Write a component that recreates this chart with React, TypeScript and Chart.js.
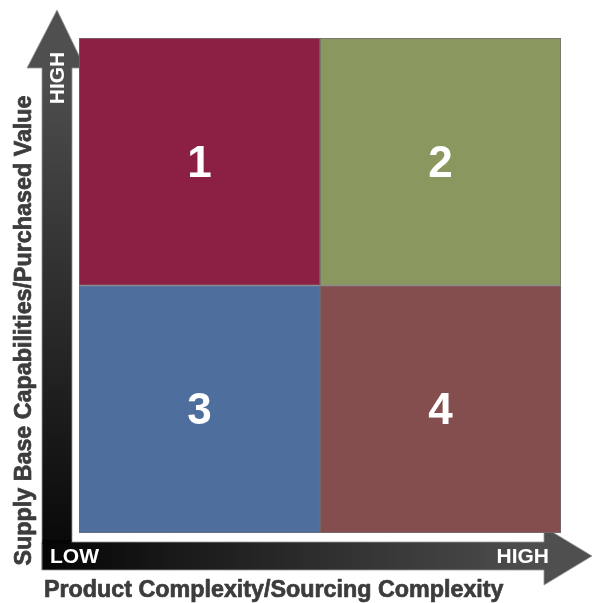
import React, { useEffect, useRef } from 'react';
import { Chart, registerables } from 'chart.js';

Chart.register(...registerables);

// Columns: product / sourcing complexity (low → high)
const complexityLevels = ['LOW', 'HIGH'];
// Rows stacked bottom → top: supply base capabilities / purchased value
const lowValueRow = [1, 1];
const highValueRow = [1, 1];
const lowValueLabels = ['3', '4'];
const highValueLabels = ['1', '2'];
const lowValueColors = ['#4e6e9e', '#844e4f'];
const highValueColors = ['#8b2044', '#8a975e'];

const xAxisTitle = 'Product Complexity/Sourcing Complexity';
const yAxisTitle = 'Supply Base Capabilities/Purchased Value';
const lowTick = 'LOW';
const highTick = 'HIGH';

const FONT = '"Liberation Sans", Arial, sans-serif';

// Quadrant numbers drawn at the centre of each bar segment
const quadrantLabels = {
  id: 'quadrantLabels',
  afterDatasetsDraw(chart: any) {
    const { ctx } = chart;
    ctx.save();
    ctx.fillStyle = '#ffffff';
    ctx.font = `bold 44px ${FONT}`;
    ctx.textAlign = 'center';
    ctx.textBaseline = 'middle';
    chart.data.datasets.forEach((ds: any, di: number) => {
      const meta = chart.getDatasetMeta(di);
      meta.data.forEach((bar: any, i: number) => {
        const cx = bar.x;
        const cy = (bar.y + bar.base) / 2;
        ctx.fillText(ds.quadrants[i], cx, cy + 3);
      });
    });
    ctx.restore();
  },
};

// Axis arrows with their end labels and titles
const axisArrows = {
  id: 'axisArrows',
  beforeDatasetsDraw(chart: any) {
    const { ctx, chartArea } = chart;
    const { left, top, right, bottom } = chartArea;
    const W = chart.width;

    const shaftL = left - 37;
    const shaftR = left - 7;
    const shaftCx = (shaftL + shaftR) / 2;
    const hTop = bottom + 9;
    const hBot = bottom + 37;
    const hCy = (hTop + hBot) / 2;

    ctx.save();

    // vertical arrow
    const vg = ctx.createLinearGradient(0, top + 30, 0, hBot);
    vg.addColorStop(0, '#4f4f4f');
    vg.addColorStop(1, '#050505');
    ctx.beginPath();
    ctx.moveTo(shaftL, hBot);
    ctx.lineTo(shaftL, top + 30);
    ctx.lineTo(shaftL - 15, top + 30);
    ctx.lineTo(shaftCx, top - 28);
    ctx.lineTo(shaftR + 13, top + 30);
    ctx.lineTo(shaftR, top + 30);
    ctx.lineTo(shaftR, hTop);
    ctx.lineTo(shaftL, hTop);
    ctx.closePath();
    ctx.fillStyle = vg;
    ctx.fill();
    ctx.strokeStyle = 'rgba(150,150,150,0.8)';
    ctx.lineWidth = 1;
    ctx.stroke();

    // horizontal arrow
    const hg = ctx.createLinearGradient(shaftL, 0, right - 16, 0);
    hg.addColorStop(0, '#050505');
    hg.addColorStop(1, '#4f4f4f');
    ctx.beginPath();
    ctx.moveTo(shaftL, hTop);
    ctx.lineTo(right - 17, hTop);
    ctx.lineTo(right - 17, hCy - 29);
    ctx.lineTo(W, hCy);
    ctx.lineTo(right - 17, hCy + 29);
    ctx.lineTo(right - 17, hBot);
    ctx.lineTo(shaftL, hBot);
    ctx.closePath();
    ctx.fillStyle = hg;
    ctx.fill();
    ctx.stroke();

    // cover the seam where the shafts meet
    ctx.fillStyle = '#050505';
    ctx.fillRect(shaftL + 0.5, hTop - 2, shaftR - shaftL - 1, 4);

    // end labels
    ctx.fillStyle = '#ffffff';
    ctx.font = `bold 21px ${FONT}`;
    ctx.textBaseline = 'middle';
    ctx.textAlign = 'left';
    ctx.fillText(lowTick, shaftL + 8, hCy + 1);
    ctx.textAlign = 'right';
    ctx.fillText(highTick, right - 12, hCy + 1);

    ctx.save();
    ctx.translate(shaftCx + 1, top + 40);
    ctx.rotate(-Math.PI / 2);
    ctx.textAlign = 'center';
    ctx.fillText(highTick, 0, 0);
    ctx.restore();

    // axis titles, slightly heavier than plain bold
    ctx.fillStyle = '#3c3c3c';
    ctx.strokeStyle = '#3c3c3c';
    ctx.lineWidth = 0.7;
    ctx.lineJoin = 'round';
    ctx.font = `bold 23.3px ${FONT}`;
    ctx.textAlign = 'left';
    ctx.textBaseline = 'alphabetic';
    ctx.fillText(xAxisTitle, shaftL + 2, hBot + 27);
    ctx.strokeText(xAxisTitle, shaftL + 2, hBot + 27);

    ctx.save();
    ctx.translate(31, (top + bottom) / 2 + 45);
    ctx.rotate(-Math.PI / 2);
    ctx.textAlign = 'center';
    ctx.fillText(yAxisTitle, 0, 0);
    ctx.strokeText(yAxisTitle, 0, 0);
    ctx.restore();

    ctx.restore();
  },
};

export default function App() {
  const canvasRef = useRef<HTMLCanvasElement | null>(null);

  useEffect(() => {
    if (!canvasRef.current) return;
    const chart = new Chart(canvasRef.current, {
      type: 'bar',
      data: {
        labels: complexityLevels,
        datasets: [
          {
            label: 'LOW',
            data: lowValueRow,
            backgroundColor: lowValueColors,
            borderColor: '#707070',
            borderWidth: 1,
            borderSkipped: false,
            categoryPercentage: 1,
            barPercentage: 1,
            quadrants: lowValueLabels,
          } as any,
          {
            label: 'HIGH',
            data: highValueRow,
            backgroundColor: highValueColors,
            borderColor: '#707070',
            borderWidth: 1,
            borderSkipped: false,
            categoryPercentage: 1,
            barPercentage: 1,
            quadrants: highValueLabels,
          } as any,
        ],
      },
      options: {
        animation: false,
        responsive: false,
        layout: { padding: { left: 79, top: 38, right: 31, bottom: 70 } },
        plugins: {
          legend: { display: false },
          tooltip: { enabled: false },
        },
        scales: {
          x: { display: false, stacked: true },
          y: { display: false, stacked: true, min: 0, max: 2 },
        },
      },
      plugins: [axisArrows, quadrantLabels],
    });
    return () => chart.destroy();
  }, []);

  return (
    <div style={{ position: 'fixed', left: 0, top: 0, width: 592, height: 603, background: '#ffffff' }}>
      <canvas ref={canvasRef} width={592} height={603} style={{ width: 592, height: 603, display: 'block' }} />
    </div>
  );
}
